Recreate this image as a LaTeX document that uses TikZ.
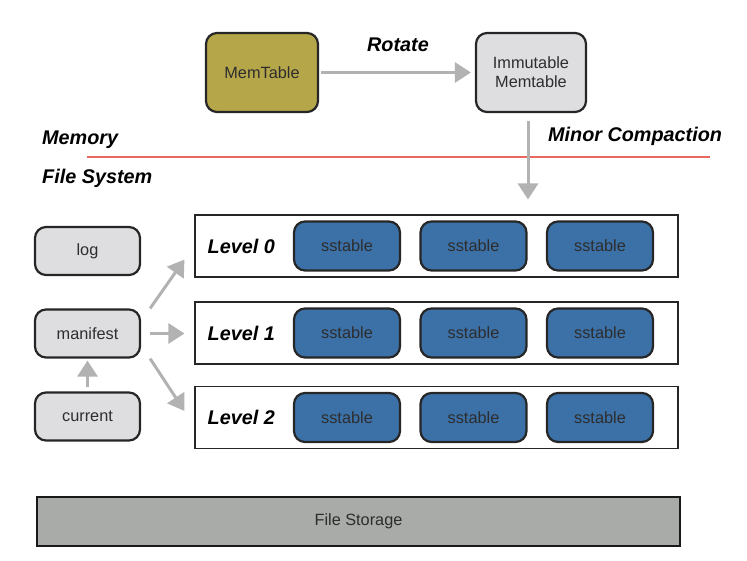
\documentclass[tikz,border=0pt]{standalone}
\usepackage{fontspec}
\setmainfont{Liberation Sans}
\usepackage{tikz}
\usetikzlibrary{arrows.meta,positioning}
\definecolor{memolive}{RGB}{182,166,74}
\definecolor{boxgray}{RGB}{222,222,225}
\definecolor{sstblue}{RGB}{60,113,168}
\definecolor{storegray}{RGB}{168,171,168}
\definecolor{arrowgray}{RGB}{178,178,178}
\definecolor{memred}{RGB}{232,104,96}
\definecolor{boxtext}{RGB}{45,45,45}
\tikzstyle{block} = [rectangle, draw=black!85, line width=2.2pt, rounded corners=11pt,
    text=boxtext, align=center, font=\fontsize{16.3}{19}\selectfont, inner sep=0pt]
\tikzstyle{memblock} = [block, fill=memolive, minimum width=112pt, minimum height=79pt]
\tikzstyle{immblock} = [block, fill=boxgray, minimum width=110pt, minimum height=79pt]
\tikzstyle{fileblock} = [block, fill=boxgray, minimum width=105pt, minimum height=48pt]
\tikzstyle{sstable} = [block, fill=sstblue, minimum width=106pt, minimum height=49pt]
\tikzstyle{levelbox} = [rectangle, draw=black!85, line width=1.1pt, minimum width=483pt, minimum height=62pt]
\tikzstyle{storage} = [rectangle, draw=black!90, line width=2.4pt, fill=storegray, text=boxtext,
    minimum width=643pt, minimum height=49pt, font=\fontsize{16.3}{19}\selectfont]
\tikzstyle{title} = [font=\fontsize{19.8}{23}\selectfont\bfseries\itshape, inner sep=0pt]
\tikzstyle{line} = [draw, arrowgray, line width=3pt, -{Triangle[length=16pt,width=20pt]}]

\begin{document}
\begin{tikzpicture}[x=1pt, y=-1pt, node distance = 87pt]
    \useasboundingbox (0,0) rectangle (747,560);
    % Place nodes
    \node [memblock] (memtable) at (262,72.5) {MemTable};
    \node [immblock, right of=memtable, node distance=269pt] (immutable) {Immutable\\Memtable};
    \node [title] (rotate) at (398,45) {Rotate};
    \node [title, anchor=west] (memory) at (42,140) {Memory};
    \node [title, anchor=west] (filesystem) at (42,178) {File System};
    \node [title, anchor=west] (minor) at (548,136) {Minor Compaction};
    \coordinate (redstart) at (87,157);
    \coordinate (redend) at (710,157);

    \node [levelbox] (level0) at (436.5,246) {};
    \node [levelbox, below of=level0] (level1) {};
    \node [levelbox, below of=level1, node distance=84.5pt] (level2) {};
    \node [title, right=13pt of level0.west] (lvl0) {Level 0};
    \node [title, right=13pt of level1.west] (lvl1) {Level 1};
    \node [title, right=13pt of level2.west] (lvl2) {Level 2};

    \node [sstable] (sst00) at (347,246) {sstable};
    \node [sstable, right of=sst00, node distance=126.5pt] (sst01) {sstable};
    \node [sstable, right of=sst01, node distance=126.5pt] (sst02) {sstable};
    \node [sstable, below of=sst00] (sst10) {sstable};
    \node [sstable, right of=sst10, node distance=126.5pt] (sst11) {sstable};
    \node [sstable, right of=sst11, node distance=126.5pt] (sst12) {sstable};
    \node [sstable, below of=sst10, node distance=84.5pt] (sst20) {sstable};
    \node [sstable, right of=sst20, node distance=126.5pt] (sst21) {sstable};
    \node [sstable, right of=sst21, node distance=126.5pt] (sst22) {sstable};

    \node [fileblock] (log) at (87.5,251) {log};
    \node [fileblock, below of=log, node distance=82.5pt] (manifest) {manifest};
    \node [fileblock, below of=manifest, node distance=83pt] (current) {current};

    \node [storage] (filestorage) at (358.5,521.5) {File Storage};

    % Draw edges
    \draw [memred, line width=2pt] (redstart) -- (redend);
    \path [line, shorten <=2pt, shorten >=4pt] (memtable) -- (immutable);
    \path [line, shorten <=8pt, shorten >=15pt] ([xshift=-3pt]immutable.south) -- ([xshift=-3pt]immutable.south |- level0.north);
    \path [line, shorten <=4pt, shorten >=2pt] (current) -- (manifest);
    \path [line] ([xshift=9pt]manifest.north east) -- ([xshift=-10pt,yshift=18pt]level0.south west);
    \path [line, shorten <=9pt, shorten >=10pt] (manifest.east) -- (level1.west |- manifest.east);
    \path [line] ([xshift=9pt]manifest.south east) -- ([xshift=-10pt,yshift=-25pt]level2.north west);
\end{tikzpicture}
\end{document}
